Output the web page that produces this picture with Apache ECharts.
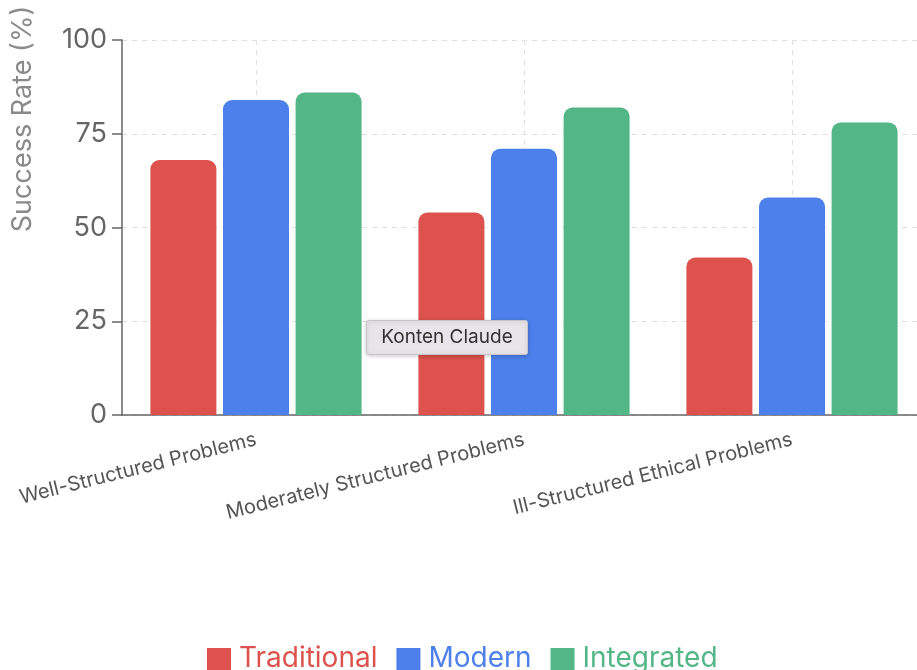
<!DOCTYPE html>
<html>
<head>
<meta charset="utf-8">
<script src="https://cdn.jsdelivr.net/npm/echarts@6/dist/echarts.min.js"></script>
<style>
html,body{margin:0;padding:0;background:#fff;overflow:hidden;width:917px;height:670px;}
#chart{width:930px;height:670px;}
</style>
</head>
<body>
<div id="chart"></div>
<script>
const categories = ['Well-Structured Problems', 'Moderately Structured Problems', 'Ill-Structured Ethical Problems'];
const traditional = [68, 54, 42];
const modern = [84, 71, 58];
const integrated = [86, 82, 78];
const yTicks = [0, 25, 50, 75, 100];
const seriesNames = ['Traditional', 'Modern', 'Integrated'];
const colors = ['#DD524C', '#4D80EB', '#53B687'];

const font = 'Inter, "Noto Sans", sans-serif';
const chart = echarts.init(document.getElementById('chart'));
const seriesData = [traditional, modern, integrated];

chart.setOption({
  animation: false,
  textStyle: { fontFamily: font },
  grid: { left: 122, top: 40, height: 375, width: 804, containLabel: false },
  legend: {
    top: 640,
    left: 202,
    itemWidth: 24,
    itemHeight: 22,
    itemGap: 19,
    icon: 'rect',
    textStyle: { fontSize: 28, fontFamily: font, padding: [0, 0, 0, 3] },
    data: seriesNames.map((n, i) => ({ name: n, textStyle: { color: colors[i] } }))
  },
  xAxis: {
    type: 'category',
    data: categories,
    axisLine: { lineStyle: { color: '#666', width: 1.5 } },
    axisTick: { alignWithLabel: true, length: 7, lineStyle: { color: '#666', width: 1.5 } },
    axisLabel: { rotate: 14, fontSize: 20, color: '#555', margin: 24, fontFamily: font },
    splitLine: { show: true, alignWithLabel: true, lineStyle: { color: '#e0e0e0', type: [5, 5] } }
  },
  yAxis: {
    type: 'value',
    min: yTicks[0],
    max: yTicks[yTicks.length - 1],
    interval: 25,
    name: 'Success Rate (%)',
    nameLocation: 'middle',
    nameGap: 86,
    nameRotate: 90,
    nameTextStyle: { fontSize: 27, color: '#8a8a8a', fontFamily: font, padding: [0, 0, 0, 217] },
    axisLine: { show: true, lineStyle: { color: '#666', width: 1.5 } },
    axisTick: { show: true, length: 10, lineStyle: { color: '#666', width: 1.5 } },
    axisLabel: { fontSize: 27, color: '#666', margin: 15, fontFamily: font },
    splitLine: { show: true, lineStyle: { color: '#e0e0e0', type: [5, 5] } }
  },
  series: seriesNames.map((n, i) => ({
    name: n,
    type: 'bar',
    data: seriesData[i],
    barWidth: 66,
    barGap: '10%',
    itemStyle: { color: colors[i], borderRadius: [9, 9, 0, 0] }
  })),
  graphic: [{
    type: 'group',
    left: 366,
    top: 320,
    z: 100,
    children: [
      { type: 'rect', z: 100, shape: { x: 0, y: 0, width: 161, height: 34, r: 2 },
        style: { fill: '#e7e5ea', stroke: '#c8c6cc', lineWidth: 1, shadowBlur: 4, shadowColor: 'rgba(0,0,0,0.2)', shadowOffsetY: 1 } },
      { type: 'text', z: 101, x: 80.5, y: 17,
        style: { text: 'Konten Claude', fill: '#333', fontSize: 19, fontFamily: font, align: 'center', verticalAlign: 'middle' } }
    ]
  }]
});
</script>
</body>
</html>
